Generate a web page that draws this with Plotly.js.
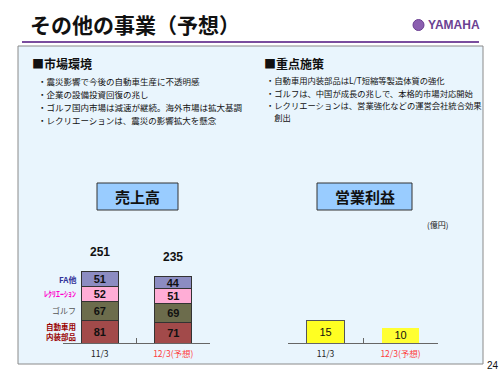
<!DOCTYPE html>
<html>
<head>
<meta charset="utf-8">
<script src="https://cdn.plot.ly/plotly-3.0.1.min.js"></script>
<style>html,body{margin:0;padding:0;background:#fff;}#chart{width:500px;height:375px;}</style>
</head>
<body>
<div id="chart"></div>
<script>
// ---- data ----
const periods = ['11/3', '12/3(予想)'];
const periodLabels = ['<span style="color:#222">11/3</span>', '<span style="color:#ff3b3b">12/3(予想)</span>'];
const segNames = ['自動車用<br>内装部品', 'ゴルフ', 'ﾚｸﾘｴｰｼｮﾝ', 'FA他'];
const autoParts = [81, 71];
const golf = [67, 69];
const recreation = [52, 51];
const faOther = [51, 44];
const salesTotal = [251, 235];
const opProfit = [15, 10];
const marketBullets = [
  '・震災影響で今後の自動車生産に不透明感',
  '・企業の設備投資回復の兆し',
  '・ゴルフ国内市場は減速が継続。海外市場は拡大基調',
  '・レクリエーションは、震災の影響拡大を懸念'
];
const focusBullets = [
  '・自動車用内装部品はL/T短縮等製造体質の強化',
  '・ゴルフは、中国が成長の兆しで、本格的市場対応開始',
  '・レクリエーションは、営業強化などの運営会社統合効果',
  '　創出'
];

const W = 500, H = 375;
const px = v => v / W;
const py = v => 1 - v / H;
const JP = '"Noto Sans CJK JP", "Noto Sans", sans-serif';

const segData = [autoParts, golf, recreation, faOther];
const segColors = ['#a24a4a', '#6c6c4c', '#ffadd6', '#8c8cc2'];
const segLabelColors = ['#990000', '#555555', '#ff00cc', '#333399'];

const traces = segData.map((vals, i) => ({
  type: 'bar', x: periods, y: vals, xaxis: 'x', yaxis: 'y',
  width: 0.5,
  marker: {color: segColors[i], line: {color: '#333', width: 1}},
  text: vals.map(String), textposition: 'inside', insidetextanchor: 'middle', constraintext: 'none',
  textfont: {family: 'Arial, sans-serif', size: 11, color: '#111', weight: 'bold'},
  textangle: 0, hoverinfo: 'skip', showlegend: false
}));
traces.push({
  type: 'bar', x: periods, y: opProfit, xaxis: 'x2', yaxis: 'y2',
  width: 0.5,
  marker: {color: ['#ffff22', '#ffff33'], line: {color: ['#555', 'rgba(0,0,0,0)'], width: 1}},
  text: opProfit.map(String), textposition: 'inside', insidetextanchor: 'middle', constraintext: 'none',
  textfont: {family: 'Arial, sans-serif', size: 11, color: '#111'},
  textangle: 0, hoverinfo: 'skip', showlegend: false
});

const annotations = [];
// title
annotations.push({xref: 'paper', yref: 'paper', x: px(28), y: py(24), xanchor: 'left', yanchor: 'middle',
  text: '<b>その他の事業（予想）</b>', showarrow: false, font: {family: JP, size: 21, color: '#111'}});
annotations.push({xref: 'paper', yref: 'paper', x: px(426), y: py(25), xanchor: 'left', yanchor: 'middle',
  text: '<b>YAMAHA</b>', showarrow: false, font: {family: 'Arial Narrow, Liberation Sans Narrow, Arial, sans-serif', size: 12, color: '#6b3f92'}});
// section headings
annotations.push({xref: 'paper', yref: 'paper', x: px(30), y: py(63), xanchor: 'left', yanchor: 'middle',
  text: '<b>■市場環境</b>', showarrow: false, font: {family: JP, size: 12, color: '#111'}});
annotations.push({xref: 'paper', yref: 'paper', x: px(262), y: py(63), xanchor: 'left', yanchor: 'middle',
  text: '<b>■重点施策</b>', showarrow: false, font: {family: JP, size: 12, color: '#111'}});
const leftYs = [81, 94, 107, 120];
marketBullets.forEach((t, i) => annotations.push({xref: 'paper', yref: 'paper', x: px(36), y: py(leftYs[i]),
  xanchor: 'left', yanchor: 'middle', text: t, showarrow: false, font: {family: JP, size: 8.5, color: '#111'}}));
const rightYs = [80, 93, 105, 117];
focusBullets.forEach((t, i) => annotations.push({xref: 'paper', yref: 'paper', x: px(264), y: py(rightYs[i]),
  xanchor: 'left', yanchor: 'middle', text: t, showarrow: false, font: {family: JP, size: 8.3, color: '#111'}}));
// chart titles
annotations.push({xref: 'paper', yref: 'paper', x: px(137.5), y: py(196.5), xanchor: 'center', yanchor: 'middle',
  text: '<b>売上高</b>', showarrow: false, font: {family: JP, size: 15, color: '#111'}});
annotations.push({xref: 'paper', yref: 'paper', x: px(364.5), y: py(196.5), xanchor: 'center', yanchor: 'middle',
  text: '<b>営業利益</b>', showarrow: false, font: {family: JP, size: 15, color: '#111'}});
annotations.push({xref: 'paper', yref: 'paper', x: px(437), y: py(224), xanchor: 'center', yanchor: 'middle',
  text: '(億円)', showarrow: false, font: {family: JP, size: 8, color: '#111'}});
annotations.push({xref: 'paper', yref: 'paper', x: px(485), y: py(365), xanchor: 'left', yanchor: 'middle',
  text: '24', showarrow: false, font: {family: 'Arial, sans-serif', size: 10, color: '#111'}});
// totals
salesTotal.forEach((t, i) => annotations.push({xref: 'x', yref: 'y', x: periods[i], y: t, yanchor: 'bottom', yshift: 11,
  text: '<b>' + t + '</b>', showarrow: false, font: {family: 'Arial, sans-serif', size: 12, color: '#111'}}));
// segment labels beside first bar
let cum = 0;
segData.forEach((vals, i) => {
  const mid = cum + vals[0] / 2; cum += vals[0];
  annotations.push({xref: 'paper', yref: 'y', x: px(78), y: mid, xanchor: 'right', yanchor: 'middle',
    text: i === 1 ? segNames[i] : '<b>' + segNames[i] + '</b>', showarrow: false,
    font: {family: JP, size: i === 0 ? 7.5 : 8, color: segLabelColors[i]}});
});

const shapes = [
  {type: 'rect', xref: 'paper', yref: 'paper', x0: px(18), x1: px(483), y0: py(364), y1: py(46),
   fillcolor: '#e9f5fd', line: {color: '#8a8a8a', width: 1}, layer: 'below'},
  {type: 'line', xref: 'paper', yref: 'paper', x0: px(22), x1: px(479), y0: py(42), y1: py(42),
   line: {color: '#7a4d9e', width: 2}},
  {type: 'circle', xref: 'paper', yref: 'paper', x0: px(413), x1: px(424), y0: py(30.5), y1: py(19.5),
   fillcolor: '#8b5fb0', line: {color: '#6b3f92', width: 1}},
  {type: 'rect', xref: 'paper', yref: 'paper', x0: px(97), x1: px(178), y0: py(210), y1: py(183),
   fillcolor: '#99ccff', line: {color: '#333', width: 1}},
  {type: 'rect', xref: 'paper', yref: 'paper', x0: px(317), x1: px(412), y0: py(210), y1: py(183),
   fillcolor: '#99ccff', line: {color: '#333', width: 1}}
];

const xaxisCommon = {
  type: 'category', categoryorder: 'array', categoryarray: periods, range: [-0.5, 1.5],
  tickmode: 'array', tickvals: periods, ticktext: periodLabels,
  showline: true, linecolor: '#666', linewidth: 1, ticks: 'inside', ticklen: 5, tickcolor: '#666',
  tickson: 'boundaries', showgrid: false, zeroline: false, fixedrange: true,
  tickfont: {family: JP, size: 8.5}, ticklabelstandoff: 3
};
const layout = {
  width: W, height: H, margin: {l: 0, r: 0, t: 0, b: 0},
  paper_bgcolor: '#ffffff', plot_bgcolor: 'rgba(0,0,0,0)',
  barmode: 'stack', showlegend: false,
  uniformtext: {mode: 'show', minsize: 11},
  xaxis: Object.assign({}, xaxisCommon, {domain: [px(63), px(210)], anchor: 'y'}),
  yaxis: {domain: [py(343), py(240)], range: [0, 364], visible: false, fixedrange: true, anchor: 'x'},
  xaxis2: Object.assign({}, xaxisCommon, {domain: [px(288), px(438)], anchor: 'y2'}),
  yaxis2: {domain: [py(343), py(240)], range: [0, 67.2], visible: false, fixedrange: true, anchor: 'x2'},
  annotations: annotations, shapes: shapes
};
Plotly.newPlot('chart', traces, layout, {displayModeBar: false, staticPlot: true});
</script>
</body>
</html>
